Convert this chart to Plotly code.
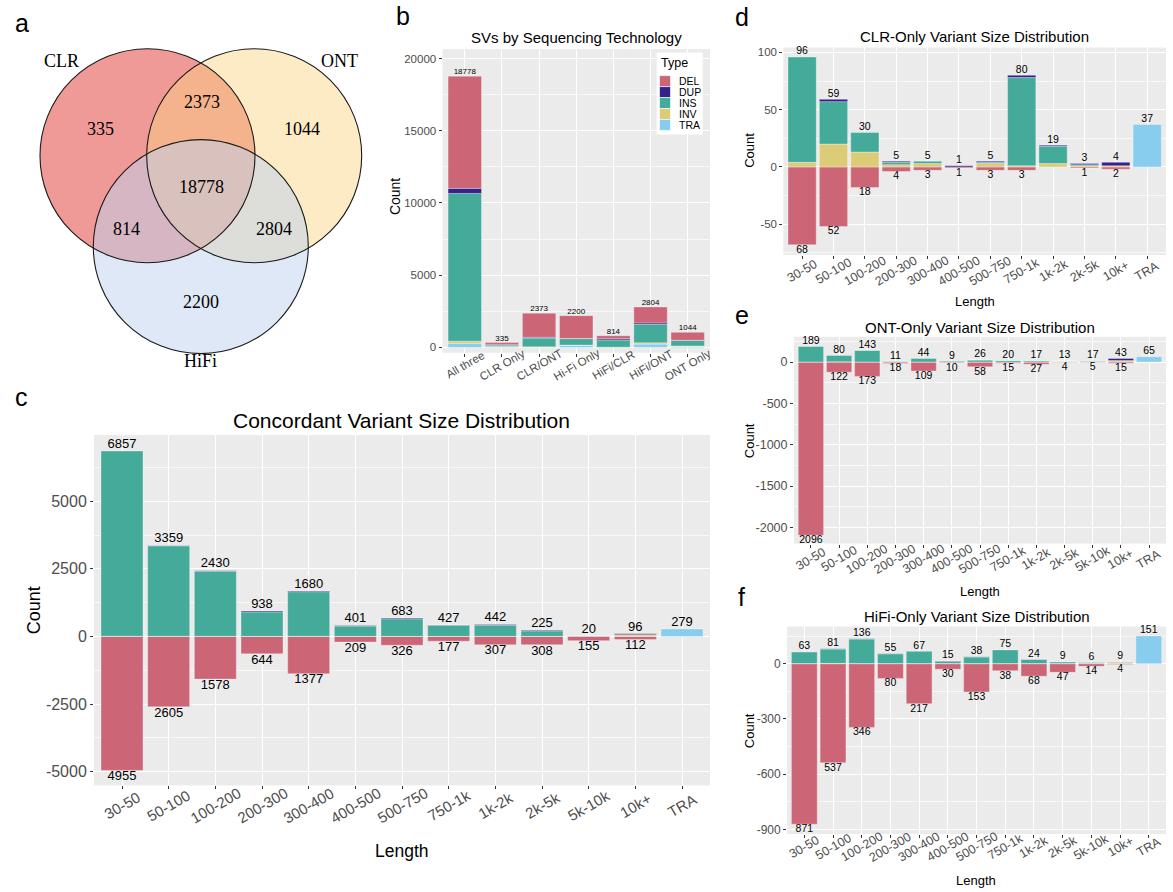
import plotly.graph_objects as go

W, H = 1173, 892
FONT = "Liberation Sans, Arial, sans-serif"
SERIF = "Liberation Serif, Times New Roman, serif"
TICK_GREY = "#4D4D4D"

TYPES = ["DEL", "DUP", "INS", "INV", "TRA"]
TYPE_COLORS = {"DEL": "#CC6677", "DUP": "#332288", "INS": "#44AA99",
               "INV": "#DDCC77", "TRA": "#88CCEE"}

# ---- SV call sets by technology overlap (panel b, Venn in panel a) ----
groups = ["All three", "CLR Only", "CLR/ONT", "Hi-Fi Only", "HiFi/CLR", "HiFi/ONT", "ONT Only"]
grp_TRA = [280, 40, 20, 151, 10, 230, 65]
grp_INV = [150, 25, 20, 10, 10, 90, 40]
grp_INS = [10230, 110, 610, 450, 500, 1280, 380]
grp_DUP = [350, 10, 50, 10, 80, 100, 15]
grp_DEL = [7768, 150, 1673, 1579, 214, 1104, 544]

# ---- size bins ----
bins13 = ["30-50", "50-100", "100-200", "200-300", "300-400", "400-500", "500-750",
          "750-1k", "1k-2k", "2k-5k", "5k-10k", "10k+", "TRA"]
bins12 = ["30-50", "50-100", "100-200", "200-300", "300-400", "400-500", "500-750",
          "750-1k", "1k-2k", "2k-5k", "10k+", "TRA"]

# Concordant (panel c)
conc_INV = [10, 8, 6, 4, 6, 3, 5, 4, 6, 5, 4, 60, 0]
conc_INS = [6847, 3345, 2404, 904, 1649, 383, 648, 408, 406, 200, 6, 6, 0]
conc_DUP = [0, 6, 20, 30, 25, 15, 30, 15, 30, 20, 10, 30, 0]
conc_TRA = [0, 0, 0, 0, 0, 0, 0, 0, 0, 0, 0, 0, 279]
conc_DEL = [4955, 2605, 1578, 644, 1377, 209, 326, 177, 307, 308, 155, 112, 0]

# CLR-only (panel d)
clr_INV = [4, 20, 13, 2, 3, 0, 3, 1, 3, 1, 1, 0]
clr_INS = [92, 37, 17, 2, 2, 0, 1, 77, 15, 1, 0, 0]
clr_DUP = [0, 2, 0, 1, 0, 1, 1, 2, 1, 1, 3, 0]
clr_TRA = [0, 0, 0, 0, 0, 0, 0, 0, 0, 0, 0, 37]
clr_DEL = [68, 52, 18, 4, 3, 1, 3, 3, 0, 1, 2, 0]

# ONT-only (panel e)
ont_INV = [2, 3, 2, 2, 2, 1, 2, 2, 2, 9, 7, 15, 0]
ont_INS = [187, 77, 140, 8, 42, 8, 23, 17, 14, 3, 9, 3, 0]
ont_DUP = [0, 0, 1, 1, 0, 0, 1, 1, 1, 1, 1, 25, 0]
ont_TRA = [0, 0, 0, 0, 0, 0, 0, 0, 0, 0, 0, 0, 65]
ont_DEL = [2096, 122, 173, 18, 109, 10, 58, 15, 27, 4, 5, 15, 0]

# HiFi-only (panel f)
hifi_INV = [1, 2, 1, 1, 1, 1, 1, 1, 1, 1, 1, 7, 0]
hifi_INS = [62, 78, 133, 53, 66, 11, 36, 74, 22, 8, 4, 1, 0]
hifi_DUP = [0, 1, 2, 1, 0, 3, 1, 0, 1, 0, 1, 1, 0]
hifi_TRA = [0, 0, 0, 0, 0, 0, 0, 0, 0, 0, 0, 0, 151]
hifi_DEL = [871, 537, 346, 80, 217, 30, 153, 38, 68, 47, 14, 4, 0]


def px(x):
    return x / W


def py(y):
    return 1 - y / H


def nz(vals, sign=1):
    return [sign * v if v else None for v in vals]


fig = go.Figure()
BAR_LINE = dict(color="rgba(255,255,255,0.55)", width=0.6)
annotations = []
shapes = []


def note(text, x, y, size, family=FONT, color="black", angle=0, xanchor="center"):
    annotations.append(dict(text=text, x=px(x), y=py(y), xref="paper", yref="paper",
                            xanchor=xanchor, yanchor="middle", showarrow=False,
                            textangle=angle, font=dict(family=family, size=size, color=color)))


# ---------------- axes ----------------
panels = {
    # key: (axis suffix, x px domain, y px domain, categories, y range, y ticks, minor step,
    #       y tick size, x tick size, x label offset below panel)
    "b": ("", (442.5, 710), (48.3, 353.3), groups, (-365, 20650),
          [0, 5000, 10000, 15000, 20000], 2500, 11.5, 11.5, 12),
    "c": ("2", (94, 710), (436, 788), bins13, (-5512, 7449),
          [-5000, -2500, 0, 2500, 5000], 1250, 16, 15, 20),
    "d": ("3", (783.3, 1166), (46.7, 255), bins12, (-76.8, 104.3),
          [-50, 0, 50, 100], 25, 11.5, 12.5, 16),
    "e": ("4", (794, 1166), (337.3, 545), bins13, (-2196, 306),
          [-2000, -1500, -1000, -500, 0], 250, 12.5, 12.5, 16),
    "f": ("5", (787.1, 1166), (628.3, 836.7), bins13, (-924, 202),
          [-900, -600, -300, 0], 150, 12, 12.5, 13),
}

layout_axes = {}
for key, (sfx, xd, yd, cats, yr, yticks, minor, ysz, xsz, xoff) in panels.items():
    n = len(cats)
    minor_vals = []
    v = yticks[0] - minor * 2
    while v <= yticks[-1] + minor * 2:
        minor_vals.append(v)
        v += minor
    layout_axes["xaxis" + sfx] = dict(
        domain=[px(xd[0]), px(xd[1])], anchor="y" + sfx, type="category",
        categoryorder="array", categoryarray=cats, range=[-0.6, n - 0.4],
        showgrid=True, gridcolor="white", gridwidth=1.2, zeroline=False,
        ticks="outside", ticklen=3, tickcolor="#333333", showticklabels=False,
        showline=False,
    )
    layout_axes["yaxis" + sfx] = dict(
        domain=[py(yd[1]), py(yd[0])], anchor="x" + sfx, range=list(yr),
        tickvals=yticks, ticktext=[str(t) for t in yticks],
        showgrid=True, gridcolor="white", gridwidth=1.2, zeroline=False,
        ticks="outside", ticklen=3, tickcolor="#333333",
        tickfont=dict(family=FONT, size=ysz, color=TICK_GREY), showline=False,
        minor=dict(tickvals=minor_vals, showgrid=True, gridcolor="rgba(255,255,255,0.65)",
                   gridwidth=0.6, ticks=""),
    )
    # slanted category labels, centred under each tick
    for c in cats:
        annotations.append(dict(
            text=c, x=c, xref="x" + sfx, y=py(yd[1] + xoff), yref="paper",
            xanchor="center", yanchor="middle", showarrow=False, textangle=-30,
            font=dict(family=FONT, size=xsz, color=TICK_GREY)))

# ---------------- panel b: stacked bars ----------------
b_series = {"TRA": grp_TRA, "INV": grp_INV, "INS": grp_INS, "DUP": grp_DUP, "DEL": grp_DEL}
for t in ["TRA", "INV", "INS", "DUP", "DEL"]:
    fig.add_trace(go.Bar(
        x=groups, y=nz(b_series[t]), name=t, showlegend=False,
        marker=dict(color=TYPE_COLORS[t], line=BAR_LINE), xaxis="x", yaxis="y",
    ))
grp_total = [sum(v) for v in zip(grp_TRA, grp_INV, grp_INS, grp_DUP, grp_DEL)]
fig.add_trace(go.Scatter(
    x=groups, y=grp_total, mode="text", text=[str(v) for v in grp_total],
    textposition="top center", textfont=dict(family=FONT, size=8, color="black"),
    cliponaxis=False, showlegend=False, hoverinfo="skip", xaxis="x", yaxis="y",
))

# ---------------- panels c-f: diverging bars ----------------
size_panels = [
    ("2", bins13, conc_INV, conc_INS, conc_DUP, conc_TRA, conc_DEL, 13),
    ("3", bins12, clr_INV, clr_INS, clr_DUP, clr_TRA, clr_DEL, 10.5),
    ("4", bins13, ont_INV, ont_INS, ont_DUP, ont_TRA, ont_DEL, 10.5),
    ("5", bins13, hifi_INV, hifi_INS, hifi_DUP, hifi_TRA, hifi_DEL, 10.5),
]
for sfx, cats, inv, ins, dup, tra, dele, lsz in size_panels:
    xa, ya = "x" + sfx, "y" + sfx
    for t, vals, sign in [("DEL", dele, -1), ("INV", inv, 1), ("INS", ins, 1),
                          ("DUP", dup, 1), ("TRA", tra, 1)]:
        fig.add_trace(go.Bar(
            x=cats, y=nz(vals, sign), name=t, showlegend=False,
            marker=dict(color=TYPE_COLORS[t], line=BAR_LINE), xaxis=xa, yaxis=ya,
        ))
    pos = [a + b + c + d for a, b, c, d in zip(inv, ins, dup, tra)]
    fig.add_trace(go.Scatter(
        x=cats, y=pos, mode="text", text=[str(v) for v in pos],
        textposition="top center", textfont=dict(family=FONT, size=lsz, color="black"),
        cliponaxis=False, showlegend=False, hoverinfo="skip", xaxis=xa, yaxis=ya,
    ))
    neg_x = [c for c, d in zip(cats, dele) if d > 0]
    neg_y = [-d for d in dele if d > 0]
    fig.add_trace(go.Scatter(
        x=neg_x, y=neg_y, mode="text", text=[str(-v) for v in neg_y],
        textposition="bottom center", textfont=dict(family=FONT, size=lsz, color="black"),
        cliponaxis=False, showlegend=False, hoverinfo="skip", xaxis=xa, yaxis=ya,
    ))

# ---------------- panel a: Venn diagram ----------------
venn_circles = [  # centre x, centre y, radius (px), fill
    (147.5, 155.5, 107.5, "rgb(239,154,150)"),
    (254.2, 155.5, 107.5, "rgba(251,211,128,0.45)"),
    (200.8, 246.7, 107.5, "rgba(189,209,237,0.5)"),
]
for cx, cy, r, fill in venn_circles:
    shapes.append(dict(type="circle", xref="paper", yref="paper",
                       x0=px(cx - r), x1=px(cx + r), y0=py(cy + r), y1=py(cy - r),
                       fillcolor=fill, line=dict(width=0), layer="above"))
for cx, cy, r, _ in venn_circles:
    shapes.append(dict(type="circle", xref="paper", yref="paper",
                       x0=px(cx - r), x1=px(cx + r), y0=py(cy + r), y1=py(cy - r),
                       fillcolor="rgba(0,0,0,0)", line=dict(color="#1a1a1a", width=1.1),
                       layer="above"))

venn_spots = {"CLR Only": (100, 128.3), "CLR/ONT": (201.7, 101), "ONT Only": (301.7, 128.3),
              "All three": (201, 186.7), "HiFi/CLR": (126.7, 229.3),
              "HiFi/ONT": (274.3, 229.3), "Hi-Fi Only": (201, 302.7)}
for g, tot in zip(groups, grp_total):
    x, y = venn_spots[g]
    note(str(tot), x, y, 18, SERIF)
note("CLR", 61.7, 60, 18, SERIF)
note("ONT", 339.3, 60, 18, SERIF)
note("HiFi", 200, 362, 18, SERIF)

# ---------------- type key inside panel b ----------------
shapes.append(dict(type="rect", xref="paper", yref="paper",
                   x0=px(656.7), x1=px(702.7), y0=py(134), y1=py(51.7),
                   fillcolor="white", line=dict(width=0), layer="above"))
note("Type", 659, 62.5, 12.5, xanchor="left")
row_top, row_h = 75, 11
for i, t in enumerate(TYPES):
    y0 = row_top + i * row_h
    shapes.append(dict(type="rect", xref="paper", yref="paper",
                       x0=px(659.5), x1=px(670.5), y0=py(y0 + row_h), y1=py(y0),
                       fillcolor=TYPE_COLORS[t], line=dict(color="white", width=0.6),
                       layer="above"))
    note(t, 676.5, y0 + row_h / 2, 10.5, xanchor="left")

# ---------------- titles, axis titles, panel letters ----------------
note("SVs by Sequencing Technology", 576.7, 36.7, 15)
note("Count", 395, 197, 14, angle=-90)

note("Concordant Variant Size Distribution", 401.5, 421, 21)
note("Count", 34, 612, 18, angle=-90)
note("Length", 401.7, 854.3, 17.5)

note("CLR-Only Variant Size Distribution", 974.2, 36, 15)
note("Count", 749.5, 150, 13, angle=-90)
note("Length", 974.5, 301.7, 13)

note("ONT-Only Variant Size Distribution", 979.7, 328.3, 15)
note("Count", 749.5, 441.7, 13, angle=-90)
note("Length", 979.5, 592.7, 13)

note("HiFi-Only Variant Size Distribution", 976.7, 618.3, 15)
note("Count", 749.5, 733, 13, angle=-90)
note("Length", 976.5, 883, 13)

for letter, x, y in [("a", 21.7, 22), ("b", 403, 15), ("c", 21.7, 398),
                     ("d", 742, 16), ("e", 742, 315), ("f", 741, 599)]:
    note(letter, x, y, 25)

fig.update_layout(
    width=W, height=H, margin=dict(l=0, r=0, t=0, b=0),
    paper_bgcolor="white", plot_bgcolor="#EBEBEB",
    barmode="relative", bargap=0.1,
    font=dict(family=FONT),
    shapes=shapes, annotations=annotations,
    showlegend=False,
    **layout_axes,
)

fig.write_html("out.html")
